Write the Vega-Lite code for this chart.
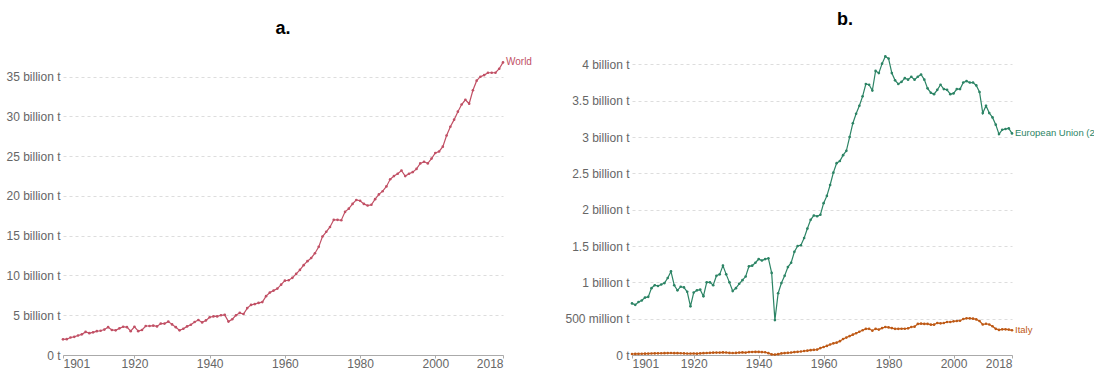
{
  "$schema": "https://vega.github.io/schema/vega-lite/v6.json",
  "padding": {"left": 0, "top": 10, "right": 0, "bottom": 0},
  "spacing": 30,
  "config": {
    "view": {"stroke": null},
    "font": "Liberation Sans",
    "axis": {"labelFont": "Liberation Sans", "labelFontSize": 12, "labelColor": "#666", "title": null, "gridColor": "#dddddd", "gridDash": [3, 3], "domainColor": "#aaaaaa", "tickColor": "#aaaaaa"},
    "title": {"fontSize": 18, "font": "Liberation Sans", "fontWeight": "bold", "color": "#000000"}
  },
  "datasets": {
    "world": [
      {"year":1901,"co2":1.97},{"year":1902,"co2":1.99},{"year":1903,"co2":2.2},{"year":1904,"co2":2.28},{"year":1905,"co2":2.45},{"year":1906,"co2":2.6},{"year":1907,"co2":2.9},{"year":1908,"co2":2.75},{"year":1909,"co2":2.85},{"year":1910,"co2":3.0},
      {"year":1911,"co2":3.05},{"year":1912,"co2":3.2},{"year":1913,"co2":3.5},{"year":1914,"co2":3.15},{"year":1915,"co2":3.1},{"year":1916,"co2":3.35},{"year":1917,"co2":3.55},{"year":1918,"co2":3.5},{"year":1919,"co2":3.0},{"year":1920,"co2":3.55},
      {"year":1921,"co2":3.0},{"year":1922,"co2":3.15},{"year":1923,"co2":3.65},{"year":1924,"co2":3.65},{"year":1925,"co2":3.7},{"year":1926,"co2":3.6},{"year":1927,"co2":3.95},{"year":1928,"co2":3.95},{"year":1929,"co2":4.2},{"year":1930,"co2":3.85},
      {"year":1931,"co2":3.5},{"year":1932,"co2":3.1},{"year":1933,"co2":3.3},{"year":1934,"co2":3.6},{"year":1935,"co2":3.8},{"year":1936,"co2":4.15},{"year":1937,"co2":4.4},{"year":1938,"co2":4.1},{"year":1939,"co2":4.35},{"year":1940,"co2":4.75},
      {"year":1941,"co2":4.85},{"year":1942,"co2":4.85},{"year":1943,"co2":5.0},{"year":1944,"co2":5.05},{"year":1945,"co2":4.2},{"year":1946,"co2":4.5},{"year":1947,"co2":5.0},{"year":1948,"co2":5.3},{"year":1949,"co2":5.15},{"year":1950,"co2":5.9},
      {"year":1951,"co2":6.3},{"year":1952,"co2":6.4},{"year":1953,"co2":6.55},{"year":1954,"co2":6.65},{"year":1955,"co2":7.4},{"year":1956,"co2":7.85},{"year":1957,"co2":8.1},{"year":1958,"co2":8.35},{"year":1959,"co2":8.85},{"year":1960,"co2":9.35},
      {"year":1961,"co2":9.4},{"year":1962,"co2":9.7},{"year":1963,"co2":10.2},{"year":1964,"co2":10.7},{"year":1965,"co2":11.3},{"year":1966,"co2":11.8},{"year":1967,"co2":12.2},{"year":1968,"co2":12.8},{"year":1969,"co2":13.6},{"year":1970,"co2":14.9},
      {"year":1971,"co2":15.5},{"year":1972,"co2":16.1},{"year":1973,"co2":17.0},{"year":1974,"co2":17.0},{"year":1975,"co2":16.95},{"year":1976,"co2":18.0},{"year":1977,"co2":18.4},{"year":1978,"co2":19.0},{"year":1979,"co2":19.5},{"year":1980,"co2":19.4},
      {"year":1981,"co2":19.0},{"year":1982,"co2":18.8},{"year":1983,"co2":18.9},{"year":1984,"co2":19.6},{"year":1985,"co2":20.2},{"year":1986,"co2":20.6},{"year":1987,"co2":21.2},{"year":1988,"co2":22.1},{"year":1989,"co2":22.5},{"year":1990,"co2":22.8},
      {"year":1991,"co2":23.2},{"year":1992,"co2":22.5},{"year":1993,"co2":22.8},{"year":1994,"co2":23.0},{"year":1995,"co2":23.4},{"year":1996,"co2":24.1},{"year":1997,"co2":24.3},{"year":1998,"co2":24.1},{"year":1999,"co2":24.7},{"year":2000,"co2":25.4},
      {"year":2001,"co2":25.6},{"year":2002,"co2":26.2},{"year":2003,"co2":27.6},{"year":2004,"co2":28.7},{"year":2005,"co2":29.6},{"year":2006,"co2":30.6},{"year":2007,"co2":31.5},{"year":2008,"co2":32.1},{"year":2009,"co2":31.6},{"year":2010,"co2":33.3},
      {"year":2011,"co2":34.5},{"year":2012,"co2":35.0},{"year":2013,"co2":35.2},{"year":2014,"co2":35.5},{"year":2015,"co2":35.5},{"year":2016,"co2":35.5},{"year":2017,"co2":36.0},{"year":2018,"co2":36.8}
    ],
    "eu": [
      {"entity":"European Union (27)","year":1901,"co2":0.71},{"entity":"European Union (27)","year":1902,"co2":0.69},{"entity":"European Union (27)","year":1903,"co2":0.73},{"entity":"European Union (27)","year":1904,"co2":0.75},{"entity":"European Union (27)","year":1905,"co2":0.79},{"entity":"European Union (27)","year":1906,"co2":0.8},{"entity":"European Union (27)","year":1907,"co2":0.92},{"entity":"European Union (27)","year":1908,"co2":0.96},{"entity":"European Union (27)","year":1909,"co2":0.95},{"entity":"European Union (27)","year":1910,"co2":0.97},
      {"entity":"European Union (27)","year":1911,"co2":0.99},{"entity":"European Union (27)","year":1912,"co2":1.06},{"entity":"European Union (27)","year":1913,"co2":1.15},{"entity":"European Union (27)","year":1914,"co2":0.96},{"entity":"European Union (27)","year":1915,"co2":0.89},{"entity":"European Union (27)","year":1916,"co2":0.94},{"entity":"European Union (27)","year":1917,"co2":0.93},{"entity":"European Union (27)","year":1918,"co2":0.87},{"entity":"European Union (27)","year":1919,"co2":0.67},{"entity":"European Union (27)","year":1920,"co2":0.86},
      {"entity":"European Union (27)","year":1921,"co2":0.89},{"entity":"European Union (27)","year":1922,"co2":0.9},{"entity":"European Union (27)","year":1923,"co2":0.81},{"entity":"European Union (27)","year":1924,"co2":1.0},{"entity":"European Union (27)","year":1925,"co2":1.0},{"entity":"European Union (27)","year":1926,"co2":0.96},{"entity":"European Union (27)","year":1927,"co2":1.09},{"entity":"European Union (27)","year":1928,"co2":1.11},{"entity":"European Union (27)","year":1929,"co2":1.23},{"entity":"European Union (27)","year":1930,"co2":1.11},
      {"entity":"European Union (27)","year":1931,"co2":1.0},{"entity":"European Union (27)","year":1932,"co2":0.88},{"entity":"European Union (27)","year":1933,"co2":0.92},{"entity":"European Union (27)","year":1934,"co2":0.98},{"entity":"European Union (27)","year":1935,"co2":1.03},{"entity":"European Union (27)","year":1936,"co2":1.08},{"entity":"European Union (27)","year":1937,"co2":1.22},{"entity":"European Union (27)","year":1938,"co2":1.23},{"entity":"European Union (27)","year":1939,"co2":1.27},{"entity":"European Union (27)","year":1940,"co2":1.32},
      {"entity":"European Union (27)","year":1941,"co2":1.3},{"entity":"European Union (27)","year":1942,"co2":1.32},{"entity":"European Union (27)","year":1943,"co2":1.33},{"entity":"European Union (27)","year":1944,"co2":1.13},{"entity":"European Union (27)","year":1945,"co2":0.48},{"entity":"European Union (27)","year":1946,"co2":0.85},{"entity":"European Union (27)","year":1947,"co2":0.99},{"entity":"European Union (27)","year":1948,"co2":1.09},{"entity":"European Union (27)","year":1949,"co2":1.21},{"entity":"European Union (27)","year":1950,"co2":1.27},
      {"entity":"European Union (27)","year":1951,"co2":1.42},{"entity":"European Union (27)","year":1952,"co2":1.5},{"entity":"European Union (27)","year":1953,"co2":1.51},{"entity":"European Union (27)","year":1954,"co2":1.61},{"entity":"European Union (27)","year":1955,"co2":1.74},{"entity":"European Union (27)","year":1956,"co2":1.86},{"entity":"European Union (27)","year":1957,"co2":1.92},{"entity":"European Union (27)","year":1958,"co2":1.91},{"entity":"European Union (27)","year":1959,"co2":1.93},{"entity":"European Union (27)","year":1960,"co2":2.09},
      {"entity":"European Union (27)","year":1961,"co2":2.19},{"entity":"European Union (27)","year":1962,"co2":2.34},{"entity":"European Union (27)","year":1963,"co2":2.51},{"entity":"European Union (27)","year":1964,"co2":2.64},{"entity":"European Union (27)","year":1965,"co2":2.67},{"entity":"European Union (27)","year":1966,"co2":2.75},{"entity":"European Union (27)","year":1967,"co2":2.81},{"entity":"European Union (27)","year":1968,"co2":3.0},{"entity":"European Union (27)","year":1969,"co2":3.19},{"entity":"European Union (27)","year":1970,"co2":3.32},
      {"entity":"European Union (27)","year":1971,"co2":3.43},{"entity":"European Union (27)","year":1972,"co2":3.56},{"entity":"European Union (27)","year":1973,"co2":3.73},{"entity":"European Union (27)","year":1974,"co2":3.72},{"entity":"European Union (27)","year":1975,"co2":3.64},{"entity":"European Union (27)","year":1976,"co2":3.91},{"entity":"European Union (27)","year":1977,"co2":3.88},{"entity":"European Union (27)","year":1978,"co2":4.01},{"entity":"European Union (27)","year":1979,"co2":4.11},{"entity":"European Union (27)","year":1980,"co2":4.08},
      {"entity":"European Union (27)","year":1981,"co2":3.88},{"entity":"European Union (27)","year":1982,"co2":3.78},{"entity":"European Union (27)","year":1983,"co2":3.73},{"entity":"European Union (27)","year":1984,"co2":3.76},{"entity":"European Union (27)","year":1985,"co2":3.81},{"entity":"European Union (27)","year":1986,"co2":3.79},{"entity":"European Union (27)","year":1987,"co2":3.83},{"entity":"European Union (27)","year":1988,"co2":3.79},{"entity":"European Union (27)","year":1989,"co2":3.83},{"entity":"European Union (27)","year":1990,"co2":3.86},
      {"entity":"European Union (27)","year":1991,"co2":3.79},{"entity":"European Union (27)","year":1992,"co2":3.67},{"entity":"European Union (27)","year":1993,"co2":3.61},{"entity":"European Union (27)","year":1994,"co2":3.59},{"entity":"European Union (27)","year":1995,"co2":3.65},{"entity":"European Union (27)","year":1996,"co2":3.72},{"entity":"European Union (27)","year":1997,"co2":3.66},{"entity":"European Union (27)","year":1998,"co2":3.65},{"entity":"European Union (27)","year":1999,"co2":3.59},{"entity":"European Union (27)","year":2000,"co2":3.6},
      {"entity":"European Union (27)","year":2001,"co2":3.66},{"entity":"European Union (27)","year":2002,"co2":3.66},{"entity":"European Union (27)","year":2003,"co2":3.75},{"entity":"European Union (27)","year":2004,"co2":3.77},{"entity":"European Union (27)","year":2005,"co2":3.75},{"entity":"European Union (27)","year":2006,"co2":3.75},{"entity":"European Union (27)","year":2007,"co2":3.71},{"entity":"European Union (27)","year":2008,"co2":3.62},{"entity":"European Union (27)","year":2009,"co2":3.33},{"entity":"European Union (27)","year":2010,"co2":3.43},
      {"entity":"European Union (27)","year":2011,"co2":3.33},{"entity":"European Union (27)","year":2012,"co2":3.27},{"entity":"European Union (27)","year":2013,"co2":3.17},{"entity":"European Union (27)","year":2014,"co2":3.04},{"entity":"European Union (27)","year":2015,"co2":3.1},{"entity":"European Union (27)","year":2016,"co2":3.11},{"entity":"European Union (27)","year":2017,"co2":3.12},{"entity":"European Union (27)","year":2018,"co2":3.05},
      {"entity":"Italy","year":1901,"co2":0.014},{"entity":"Italy","year":1902,"co2":0.015},{"entity":"Italy","year":1903,"co2":0.016},{"entity":"Italy","year":1904,"co2":0.017},{"entity":"Italy","year":1905,"co2":0.018},{"entity":"Italy","year":1906,"co2":0.019},{"entity":"Italy","year":1907,"co2":0.021},{"entity":"Italy","year":1908,"co2":0.022},{"entity":"Italy","year":1909,"co2":0.023},{"entity":"Italy","year":1910,"co2":0.024},
      {"entity":"Italy","year":1911,"co2":0.025},{"entity":"Italy","year":1912,"co2":0.026},{"entity":"Italy","year":1913,"co2":0.027},{"entity":"Italy","year":1914,"co2":0.025},{"entity":"Italy","year":1915,"co2":0.025},{"entity":"Italy","year":1916,"co2":0.024},{"entity":"Italy","year":1917,"co2":0.022},{"entity":"Italy","year":1918,"co2":0.02},{"entity":"Italy","year":1919,"co2":0.02},{"entity":"Italy","year":1920,"co2":0.021},
      {"entity":"Italy","year":1921,"co2":0.018},{"entity":"Italy","year":1922,"co2":0.022},{"entity":"Italy","year":1923,"co2":0.025},{"entity":"Italy","year":1924,"co2":0.027},{"entity":"Italy","year":1925,"co2":0.03},{"entity":"Italy","year":1926,"co2":0.032},{"entity":"Italy","year":1927,"co2":0.033},{"entity":"Italy","year":1928,"co2":0.033},{"entity":"Italy","year":1929,"co2":0.036},{"entity":"Italy","year":1930,"co2":0.034},
      {"entity":"Italy","year":1931,"co2":0.029},{"entity":"Italy","year":1932,"co2":0.027},{"entity":"Italy","year":1933,"co2":0.029},{"entity":"Italy","year":1934,"co2":0.033},{"entity":"Italy","year":1935,"co2":0.036},{"entity":"Italy","year":1936,"co2":0.033},{"entity":"Italy","year":1937,"co2":0.04},{"entity":"Italy","year":1938,"co2":0.042},{"entity":"Italy","year":1939,"co2":0.043},{"entity":"Italy","year":1940,"co2":0.043},
      {"entity":"Italy","year":1941,"co2":0.04},{"entity":"Italy","year":1942,"co2":0.038},{"entity":"Italy","year":1943,"co2":0.025},{"entity":"Italy","year":1944,"co2":0.008},{"entity":"Italy","year":1945,"co2":0.006},{"entity":"Italy","year":1946,"co2":0.012},{"entity":"Italy","year":1947,"co2":0.022},{"entity":"Italy","year":1948,"co2":0.026},{"entity":"Italy","year":1949,"co2":0.03},{"entity":"Italy","year":1950,"co2":0.034},
      {"entity":"Italy","year":1951,"co2":0.04},{"entity":"Italy","year":1952,"co2":0.044},{"entity":"Italy","year":1953,"co2":0.048},{"entity":"Italy","year":1954,"co2":0.055},{"entity":"Italy","year":1955,"co2":0.06},{"entity":"Italy","year":1956,"co2":0.067},{"entity":"Italy","year":1957,"co2":0.071},{"entity":"Italy","year":1958,"co2":0.074},{"entity":"Italy","year":1959,"co2":0.095},{"entity":"Italy","year":1960,"co2":0.11},
      {"entity":"Italy","year":1961,"co2":0.125},{"entity":"Italy","year":1962,"co2":0.145},{"entity":"Italy","year":1963,"co2":0.16},{"entity":"Italy","year":1964,"co2":0.17},{"entity":"Italy","year":1965,"co2":0.19},{"entity":"Italy","year":1966,"co2":0.22},{"entity":"Italy","year":1967,"co2":0.24},{"entity":"Italy","year":1968,"co2":0.26},{"entity":"Italy","year":1969,"co2":0.28},{"entity":"Italy","year":1970,"co2":0.3},
      {"entity":"Italy","year":1971,"co2":0.32},{"entity":"Italy","year":1972,"co2":0.34},{"entity":"Italy","year":1973,"co2":0.36},{"entity":"Italy","year":1974,"co2":0.36},{"entity":"Italy","year":1975,"co2":0.335},{"entity":"Italy","year":1976,"co2":0.36},{"entity":"Italy","year":1977,"co2":0.35},{"entity":"Italy","year":1978,"co2":0.37},{"entity":"Italy","year":1979,"co2":0.385},{"entity":"Italy","year":1980,"co2":0.38},
      {"entity":"Italy","year":1981,"co2":0.37},{"entity":"Italy","year":1982,"co2":0.36},{"entity":"Italy","year":1983,"co2":0.36},{"entity":"Italy","year":1984,"co2":0.362},{"entity":"Italy","year":1985,"co2":0.362},{"entity":"Italy","year":1986,"co2":0.367},{"entity":"Italy","year":1987,"co2":0.385},{"entity":"Italy","year":1988,"co2":0.39},{"entity":"Italy","year":1989,"co2":0.428},{"entity":"Italy","year":1990,"co2":0.432},
      {"entity":"Italy","year":1991,"co2":0.428},{"entity":"Italy","year":1992,"co2":0.428},{"entity":"Italy","year":1993,"co2":0.418},{"entity":"Italy","year":1994,"co2":0.418},{"entity":"Italy","year":1995,"co2":0.44},{"entity":"Italy","year":1996,"co2":0.436},{"entity":"Italy","year":1997,"co2":0.44},{"entity":"Italy","year":1998,"co2":0.454},{"entity":"Italy","year":1999,"co2":0.454},{"entity":"Italy","year":2000,"co2":0.463},
      {"entity":"Italy","year":2001,"co2":0.468},{"entity":"Italy","year":2002,"co2":0.472},{"entity":"Italy","year":2003,"co2":0.495},{"entity":"Italy","year":2004,"co2":0.505},{"entity":"Italy","year":2005,"co2":0.505},{"entity":"Italy","year":2006,"co2":0.5},{"entity":"Italy","year":2007,"co2":0.49},{"entity":"Italy","year":2008,"co2":0.468},{"entity":"Italy","year":2009,"co2":0.42},{"entity":"Italy","year":2010,"co2":0.43},
      {"entity":"Italy","year":2011,"co2":0.42},{"entity":"Italy","year":2012,"co2":0.395},{"entity":"Italy","year":2013,"co2":0.36},{"entity":"Italy","year":2014,"co2":0.345},{"entity":"Italy","year":2015,"co2":0.353},{"entity":"Italy","year":2016,"co2":0.353},{"entity":"Italy","year":2017,"co2":0.35},{"entity":"Italy","year":2018,"co2":0.34}
    ]
  },
  "hconcat": [
    {
      "width": 440,
      "height": 300,
      "title": {"text": "a.", "offset": 17},
      "data": {"name": "world"},
      "encoding": {
        "x": {"field": "year", "type": "quantitative", "scale": {"domain": [1901, 2018], "nice": false, "zero": false},
              "axis": {"values": [1901, 1920, 1940, 1960, 1980, 2000, 2018], "format": "d", "labelFlush": true, "grid": false, "tickSize": 3, "labelPadding": 0}},
        "y": {"field": "co2", "type": "quantitative", "scale": {"domain": [0, 37.73], "nice": false},
              "axis": {"values": [0, 5, 10, 15, 20, 25, 30, 35], "domain": false, "ticks": false, "labelPadding": 3, "minExtent": 63, "maxExtent": 63,
                       "labelExpr": "datum.value == 0 ? '0 t' : datum.value + ' billion t'"}}
      },
      "layer": [
        {"mark": {"type": "line", "color": "#c15065", "strokeWidth": 1.2, "point": {"filled": true, "size": 7, "color": "#c15065"}}},
        {"transform": [{"filter": "datum.year == 2018"}],
         "mark": {"type": "text", "align": "left", "baseline": "middle", "dx": 3, "fontSize": 10, "color": "#c15065"},
         "encoding": {"text": {"value": "World"}}}
      ]
    },
    {
      "width": 380,
      "height": 300,
      "title": {"text": "b.", "offset": 25, "dx": 23},
      "data": {"name": "eu"},
      "encoding": {
        "x": {"field": "year", "type": "quantitative", "scale": {"domain": [1901, 2018], "nice": false, "zero": false},
              "axis": {"values": [1901, 1920, 1940, 1960, 1980, 2000, 2018], "format": "d", "labelFlush": true, "grid": false, "tickSize": 3, "labelPadding": 0}},
        "y": {"field": "co2", "type": "quantitative", "scale": {"domain": [0, 4.129], "nice": false},
              "axis": {"values": [0, 0.5, 1, 1.5, 2, 2.5, 3, 3.5, 4], "domain": false, "ticks": false, "labelPadding": 3, "minExtent": 70, "maxExtent": 70,
                       "labelExpr": "datum.value == 0 ? '0 t' : datum.value < 1 ? format(datum.value * 1000, 'd') + ' million t' : datum.value + ' billion t'"}},
        "color": {"field": "entity", "type": "nominal", "scale": {"domain": ["European Union (27)", "Italy"], "range": ["#2c8465", "#be5915"]}, "legend": null}
      },
      "layer": [
        {"mark": {"type": "line", "strokeWidth": 1.2, "point": {"filled": true, "size": 7}}},
        {"transform": [{"filter": "datum.year == 2018"}],
         "mark": {"type": "text", "align": "left", "baseline": "middle", "dx": 3, "fontSize": 9.5},
         "encoding": {"text": {"field": "entity"}}}
      ]
    }
  ]
}
